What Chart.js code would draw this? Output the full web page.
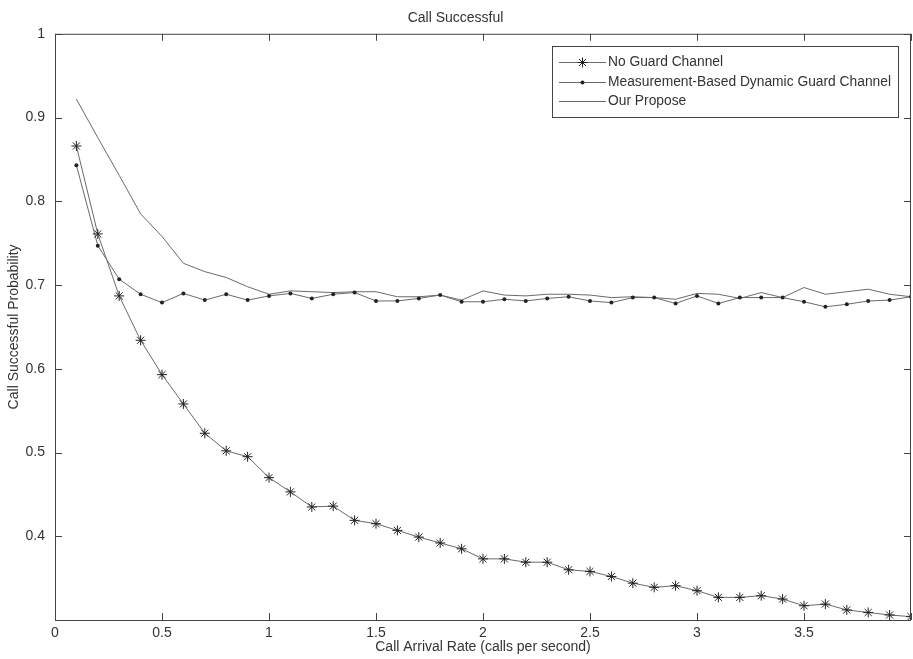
<!DOCTYPE html>
<html>
<head>
<meta charset="utf-8">
<title>Call Successful</title>
<script src="https://cdn.jsdelivr.net/npm/chart.js@4"></script>
<style>
  html, body { margin: 0; padding: 0; background: #fff; }
  #chart { display: block; }
</style>
</head>
<body>
<canvas id="chart" width="913" height="659"></canvas>
<script>
// call arrival rate (calls per second)
const rates = [0.1, 0.2, 0.3, 0.4, 0.5, 0.6, 0.7, 0.8, 0.9, 1.0,
  1.1, 1.2, 1.3, 1.4, 1.5, 1.6, 1.7, 1.8, 1.9, 2.0,
  2.1, 2.2, 2.3, 2.4, 2.5, 2.6, 2.7, 2.8, 2.9, 3.0,
  3.1, 3.2, 3.3, 3.4, 3.5, 3.6, 3.7, 3.8, 3.9, 4.0];

const noGuard = [0.866, 0.761, 0.687, 0.634, 0.593, 0.558, 0.523, 0.502, 0.495, 0.470,
  0.453, 0.435, 0.436, 0.419, 0.415, 0.407, 0.399, 0.392, 0.385, 0.373,
  0.373, 0.369, 0.369, 0.360, 0.358, 0.352, 0.344, 0.339, 0.341, 0.335,
  0.327, 0.327, 0.329, 0.325, 0.317, 0.319, 0.312, 0.309, 0.306, 0.304];

const measurementBased = [0.843, 0.747, 0.707, 0.689, 0.679, 0.690, 0.682, 0.689, 0.682, 0.687,
  0.690, 0.684, 0.689, 0.691, 0.681, 0.681, 0.684, 0.688, 0.680, 0.680,
  0.683, 0.681, 0.684, 0.686, 0.681, 0.679, 0.685, 0.685, 0.678, 0.687,
  0.678, 0.685, 0.685, 0.685, 0.680, 0.674, 0.677, 0.681, 0.682, 0.686];

const ourPropose = [0.922, 0.876, 0.831, 0.785, 0.758, 0.726, 0.716, 0.709, 0.698, 0.689,
  0.693, 0.692, 0.691, 0.692, 0.692, 0.686, 0.686, 0.688, 0.682, 0.693,
  0.688, 0.687, 0.689, 0.689, 0.688, 0.685, 0.686, 0.685, 0.683, 0.690,
  0.689, 0.684, 0.691, 0.685, 0.697, 0.689, 0.692, 0.695, 0.689, 0.686];

const seriesNames = ["No Guard Channel", "Measurement-Based Dynamic Guard Channel", "Our Propose"];

const xTicks = [0, 0.5, 1, 1.5, 2, 2.5, 3, 3.5, 4];
const yTicks = [0.3, 0.4, 0.5, 0.6, 0.7, 0.8, 0.9, 1];

const FONT = "'Liberation Sans', Arial, Helvetica, sans-serif";
const TEXT = "#333";
const LINE = "#6a6a6a";
const MARK = "#222";

function toPoints(values) {
  return rates.map((x, i) => ({ x: x, y: values[i] }));
}

// matlab style box with inward ticks on all four sides
const frameBox = {
  id: "frameBox",
  afterDatasetsDraw(chart) {
    const { ctx, chartArea: a, scales } = chart;
    const len = 7;
    ctx.save();
    ctx.strokeStyle = "#444";
    ctx.lineWidth = 1;
    ctx.strokeRect(a.left + 0.5, a.top + 0.5, a.right - a.left - 1, a.bottom - a.top);
    ctx.beginPath();
    xTicks.forEach(v => {
      const px = Math.round(scales.x.getPixelForValue(v)) + 0.5;
      ctx.moveTo(px, a.bottom); ctx.lineTo(px, a.bottom - len);
      ctx.moveTo(px, a.top); ctx.lineTo(px, a.top + len);
    });
    yTicks.forEach(v => {
      const py = Math.round(scales.y.getPixelForValue(v)) + 0.5;
      ctx.moveTo(a.left, py); ctx.lineTo(a.left + len, py);
      ctx.moveTo(a.right, py); ctx.lineTo(a.right - len, py);
    });
    ctx.stroke();
    ctx.restore();
  }
};

// legend box in the upper right corner of the plot
const boxLegend = {
  id: "boxLegend",
  afterDraw(chart) {
    const { ctx } = chart;
    const box = { left: 552, top: 46, right: 898, bottom: 117 };
    const rows = [62, 81.5, 101];
    ctx.save();
    ctx.fillStyle = "#fff";
    ctx.fillRect(box.left, box.top, box.right - box.left, box.bottom - box.top);
    ctx.strokeStyle = "#444";
    ctx.lineWidth = 1;
    ctx.strokeRect(box.left + 0.5, box.top + 0.5, box.right - box.left, box.bottom - box.top);
    chart.data.datasets.forEach((ds, i) => {
      const y = Math.round(rows[i]) + 0.5;
      ctx.strokeStyle = ds.borderColor;
      ctx.beginPath();
      ctx.moveTo(559, y);
      ctx.lineTo(606, y);
      ctx.stroke();
      if (ds.pointRadius > 0) {
        ctx.fillStyle = ds.pointBackgroundColor;
        ctx.strokeStyle = ds.pointBorderColor;
        if (ds.pointStyle === "circle") {
          ctx.beginPath();
          ctx.arc(582.5, y, ds.pointRadius, 0, Math.PI * 2);
          ctx.fill();
        } else {
          Chart.helpers.drawPoint(ctx, {
            pointStyle: ds.pointStyle,
            radius: ds.pointRadius,
            borderWidth: 1,
            rotation: 0
          }, 582.5, y);
        }
      }
      ctx.fillStyle = TEXT;
      ctx.font = "13.8px " + FONT;
      ctx.textBaseline = "middle";
      ctx.fillText(ds.label, 608, y);
    });
    ctx.restore();
  }
};

const ctx = document.getElementById("chart").getContext("2d");
new Chart(ctx, {
  type: "line",
  data: {
    datasets: [
      {
        label: seriesNames[0],
        data: toPoints(noGuard),
        borderColor: LINE,
        borderWidth: 1,
        pointStyle: "star",
        pointRadius: 5,
        pointBorderColor: MARK,
        pointBackgroundColor: MARK,
        pointBorderWidth: 1
      },
      {
        label: seriesNames[1],
        data: toPoints(measurementBased),
        borderColor: LINE,
        borderWidth: 1,
        pointStyle: "circle",
        pointRadius: 2,
        pointBorderColor: MARK,
        pointBackgroundColor: MARK,
        pointBorderWidth: 0
      },
      {
        label: seriesNames[2],
        data: toPoints(ourPropose),
        borderColor: LINE,
        borderWidth: 1,
        pointRadius: 0
      }
    ]
  },
  options: {
    responsive: false,
    animation: false,
    devicePixelRatio: 1,
    layout: { autoPadding: false, padding: { left: 0, right: 2, top: 0, bottom: 0 } },
    elements: { line: { tension: 0 } },
    plugins: {
      legend: { display: false },
      tooltip: { enabled: false },
      title: {
        display: true,
        text: "Call Successful",
        color: TEXT,
        font: { family: FONT, size: 14, weight: "normal" },
        padding: { top: 10, bottom: 7 }
      }
    },
    scales: {
      x: {
        type: "linear",
        min: 0,
        max: 4,
        afterBuildTicks: s => { s.ticks = xTicks.map(v => ({ value: v })); },
        afterFit: s => { s.height = 39; },
        // tickLength moves the labels down; tick padding stays 0 so the plot reaches the right edge
        grid: { display: false, drawTicks: true, tickLength: 5 },
        border: { display: false },
        ticks: {
          color: TEXT,
          font: { family: FONT, size: 14 },
          padding: 0,
          maxRotation: 0,
          callback: v => (v === 4 ? "" : String(v))
        },
        title: {
          display: true,
          text: "Call Arrival Rate (calls per second)",
          color: TEXT,
          font: { family: FONT, size: 14 },
          padding: { top: 0, bottom: 3 }
        }
      },
      y: {
        min: 0.3,
        max: 1,
        afterBuildTicks: s => { s.ticks = yTicks.map(v => ({ value: v })); },
        afterFit: s => { s.width = 55; },
        grid: { display: false, drawTicks: false },
        border: { display: false },
        ticks: {
          color: TEXT,
          font: { family: FONT, size: 14 },
          padding: 10,
          callback: v => (Math.abs(v - 0.3) < 1e-9 ? "" : String(Math.round(v * 10) / 10))
        },
        title: {
          display: true,
          text: "Call Successful Probability",
          color: TEXT,
          font: { family: FONT, size: 14 },
          padding: { top: 6, bottom: 0 }
        }
      }
    }
  },
  plugins: [frameBox, boxLegend]
});
</script>
</body>
</html>
